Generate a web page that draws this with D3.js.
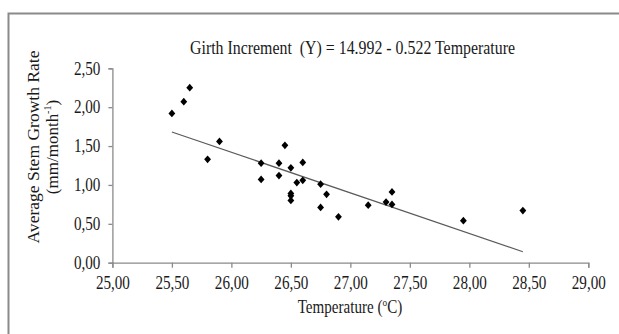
<!DOCTYPE html>
<html>
<head>
<meta charset="utf-8">
<script src="https://cdnjs.cloudflare.com/ajax/libs/d3/7.8.5/d3.min.js"></script>
<style>
  body { margin: 0; background: #fff; }
  text { font-family: "Liberation Serif", "Times New Roman", serif; fill: #1a1a1a; }
</style>
</head>
<body>
<div id="graph"></div>
<script>
// temperature (x) and stem growth rate (y)
var temperature = [25.50, 25.60, 25.65, 25.80, 25.90, 26.25, 26.25, 26.40, 26.40, 26.45,
                   26.50, 26.50, 26.50, 26.50, 26.55, 26.60, 26.60, 26.75, 26.80, 26.75,
                   26.90, 27.15, 27.30, 27.35, 27.35, 27.95, 28.45];
var growthRate  = [1.92, 2.07, 2.25, 1.33, 1.56, 1.28, 1.07, 1.28, 1.12, 1.51,
                   1.22, 0.89, 0.86, 0.80, 1.03, 1.06, 1.29, 1.01, 0.88, 0.71,
                   0.59, 0.74, 0.78, 0.75, 0.91, 0.54, 0.67];
var xTicks = [25, 25.5, 26, 26.5, 27, 27.5, 28, 28.5, 29];
var yTicks = [0, 0.5, 1, 1.5, 2, 2.5];
var intercept = 14.992;
var slope = -0.522;

const fullwidth = 619;
const fullheight = 334;

var fmt = function(d) { return d.toFixed(2).replace(".", ","); };

// the source picture is squeezed sideways, so squeeze horizontal text too
function squeeze(sel, ratio) {
  sel.each(function() {
    var w = this.getComputedTextLength();
    d3.select(this).attr("textLength", w * ratio).attr("lengthAdjust", "spacingAndGlyphs");
  });
}

var xScale = d3.scaleLinear().domain([25, 29]).range([112.4, 588.3]);
var yScale = d3.scaleLinear().domain([0, 2.5]).range([262.7, 68.3]);

var svg = d3.select("#graph")
    .append("svg")
    .attr("width", fullwidth)
    .attr("height", fullheight);

// chart frame (right and bottom edges fall outside the picture)
svg.append("rect")
    .attr("x", 8.5).attr("y", 13.5)
    .attr("width", 700).attr("height", 400)
    .attr("fill", "none")
    .attr("stroke", "#8a8a8a")
    .attr("stroke-width", 2);

var yAxis = d3.axisLeft(yScale).tickValues(yTicks).tickFormat(fmt).tickSize(4).tickPadding(8);
var xAxis = d3.axisBottom(xScale).tickValues(xTicks).tickFormat(fmt).tickSize(5).tickPadding(9);

var gy = svg.append("g")
    .attr("transform", "translate(" + xScale(25) + ",0)")
    .call(yAxis);

var gx = svg.append("g")
    .attr("transform", "translate(0," + yScale(0) + ")")
    .call(xAxis);

[gx, gy].forEach(function(g) {
  g.attr("font-family", null);
  g.select(".domain").attr("stroke", "#8a8a8a").attr("stroke-width", 1.3);
  g.selectAll(".tick line").attr("stroke", "#8a8a8a").attr("stroke-width", 1.3);
  g.selectAll(".tick text").attr("font-size", 18).attr("fill", "#1a1a1a");
  squeeze(g.selectAll(".tick text"), 0.84);
});

// trend line over the data range
var xMin = d3.min(temperature), xMax = d3.max(temperature);
svg.append("line")
    .attr("x1", xScale(xMin)).attr("y1", yScale(intercept + slope * xMin))
    .attr("x2", xScale(xMax)).attr("y2", yScale(intercept + slope * xMax))
    .attr("stroke", "#5a5a5a")
    .attr("stroke-width", 1.2);

// diamond markers
var diamond = d3.symbol().type(d3.symbolSquare).size(30);
svg.selectAll("path.pt")
    .data(temperature)
    .enter()
    .append("path")
    .attr("class", "pt")
    .attr("d", diamond)
    .attr("transform", (d, i) => "translate(" + xScale(d) + "," + yScale(growthRate[i]) + ") scale(0.88,1) rotate(45)")
    .attr("fill", "#000");

// titles
var title = svg.append("text")
    .attr("x", 352.5).attr("y", 54)
    .attr("text-anchor", "middle")
    .attr("font-size", 18)
    .text("Girth Increment\u00a0 (Y) = 14.992 - 0.522 Temperature");
title.attr("textLength", 325).attr("lengthAdjust", "spacingAndGlyphs");

var xt = svg.append("text")
    .attr("transform", "translate(350,313) scale(0.84,1)")
    .attr("text-anchor", "middle")
    .attr("font-size", 18);
xt.append("tspan").text("Temperature (");
xt.append("tspan").attr("font-size", 11).attr("dy", -7).text("o");
xt.append("tspan").attr("dy", 7).text("C)");

var yt = svg.append("text")
    .attr("transform", "translate(39,147) rotate(-90)")
    .attr("text-anchor", "middle")
    .attr("font-size", 17)
    .text("Average Stem Growth Rate");
yt.attr("textLength", 193).attr("lengthAdjust", "spacingAndGlyphs");

var yt2 = svg.append("text")
    .attr("transform", "translate(58,147) rotate(-90)")
    .attr("text-anchor", "middle")
    .attr("font-size", 17);
yt2.append("tspan").text("(mm/month");
yt2.append("tspan").attr("font-size", 10).attr("dy", -7).text("-1");
yt2.append("tspan").attr("dy", 7).text(")");
</script>
</body>
</html>
